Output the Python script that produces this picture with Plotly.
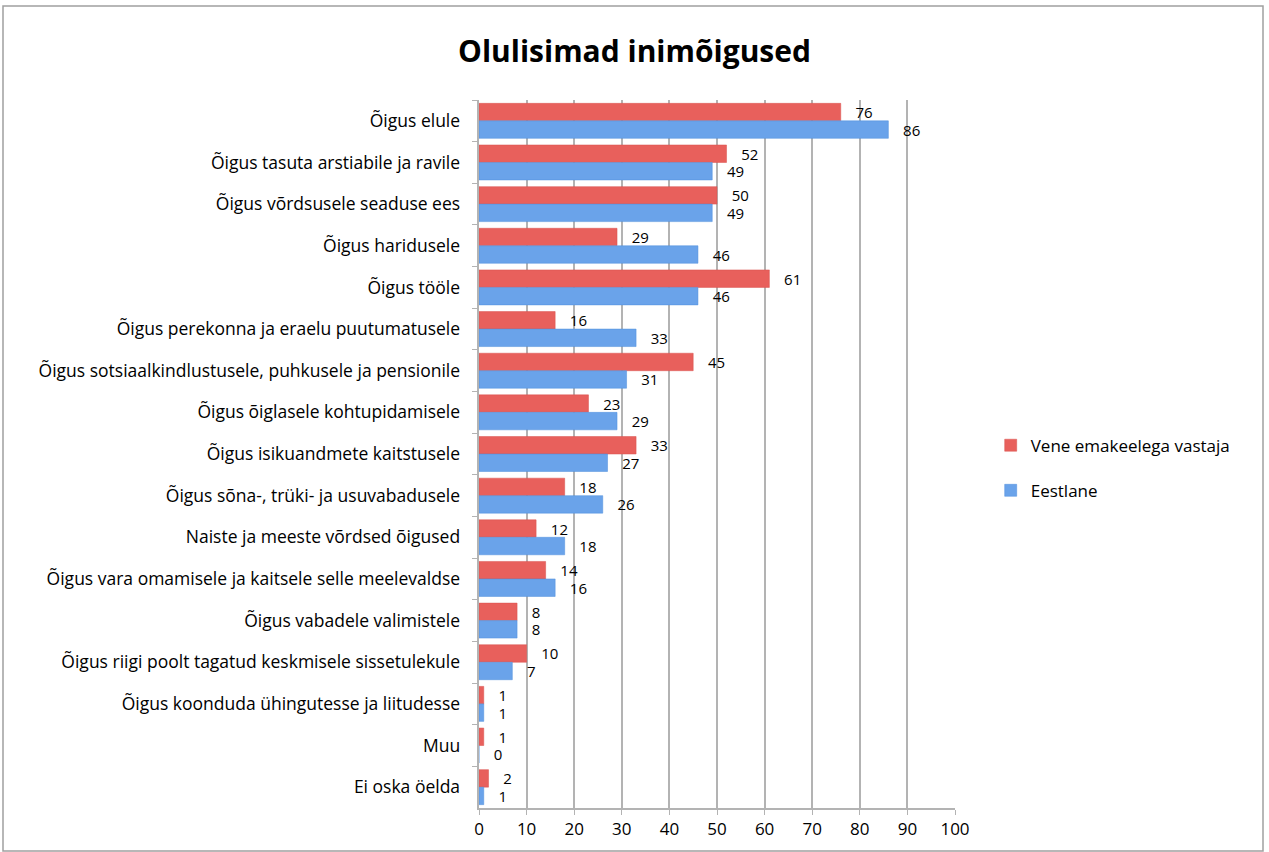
import plotly.graph_objects as go

# Andmed
kategooriad = [
    "Õigus elule",
    "Õigus tasuta arstiabile ja ravile",
    "Õigus võrdsusele seaduse ees",
    "Õigus haridusele",
    "Õigus tööle",
    "Õigus perekonna ja eraelu puutumatusele",
    "Õigus sotsiaalkindlustusele, puhkusele ja pensionile",
    "Õigus õiglasele kohtupidamisele",
    "Õigus isikuandmete kaitstusele",
    "Õigus sõna-, trüki- ja usuvabadusele",
    "Naiste ja meeste võrdsed õigused",
    "Õigus vara omamisele ja kaitsele selle meelevaldse",
    "Õigus vabadele valimistele",
    "Õigus riigi poolt tagatud keskmisele sissetulekule",
    "Õigus koonduda ühingutesse ja liitudesse",
    "Muu",
    "Ei oska öelda",
]
vene = [76, 52, 50, 29, 61, 16, 45, 23, 33, 18, 12, 14, 8, 10, 1, 1, 2]
eesti = [86, 49, 49, 46, 46, 33, 31, 29, 27, 26, 18, 16, 8, 7, 1, 0, 1]
x_tikid = list(range(0, 101, 10))

font = "Open Sans"

fig = go.Figure()
fig.add_trace(go.Bar(
    y=kategooriad, x=vene, orientation="h", name="Vene emakeelega vastaja",
    marker=dict(color="#E8605C", line=dict(color="#D9534F", width=0.5)),
    texttemplate="   %{x}", textposition="outside", cliponaxis=False,
    constraintext="none", textfont=dict(size=15, color="black"),
    legendgroup="a",
))
fig.add_trace(go.Bar(
    y=kategooriad, x=eesti, orientation="h", name="Eestlane",
    marker=dict(color="#6AA3EA", line=dict(color="#4F8FDC", width=0.5)),
    texttemplate="   %{x}", textposition="outside", cliponaxis=False,
    constraintext="none", textfont=dict(size=15, color="black"),
    legendgroup="b",
))

fig.update_layout(
    width=1269, height=852,
    paper_bgcolor="white", plot_bgcolor="white",
    font=dict(family=font, size=16, color="black"),
    title=dict(text="<b>Olulisimad inimõigused</b>", x=0.5, xanchor="center",
               y=0.94, yanchor="middle", font=dict(size=30, family=font)),
    margin=dict(l=479, r=314, t=100, b=44),
    barmode="group", bargap=0.16, bargroupgap=0,
    legend=dict(x=1.075, y=0.48, xanchor="left", yanchor="middle",
                traceorder="grouped", tracegroupgap=20,
                font=dict(size=17), itemwidth=30),
    xaxis=dict(range=[0, 100], tickvals=x_tikid, showgrid=True,
               gridcolor="#B3B3B3", gridwidth=1.5, showline=True,
               linecolor="#B3B3B3", linewidth=1.5, ticks="outside",
               tickcolor="#B3B3B3", ticklen=5, zeroline=False,
               tickfont=dict(size=17)),
    yaxis=dict(autorange="reversed", showline=True, linecolor="#B3B3B3",
               linewidth=1.5, ticks="outside", tickson="boundaries",
               tickcolor="#B3B3B3", ticklen=5, tickfont=dict(size=17.5),
               ticksuffix="   "),
    showlegend=True,
)

# raam ümber diagrammi
fig.add_shape(type="rect", xref="paper", yref="paper",
              x0=(3 - 479) / 476, x1=(1263 - 479) / 476,
              y0=(808 - 851) / 708, y1=(808 - 6) / 708,
              line=dict(color="#A0A0A0", width=1.5))

fig.write_html("out.html", config={"displayModeBar": False},
               post_script="document.body.style.margin='0';")
